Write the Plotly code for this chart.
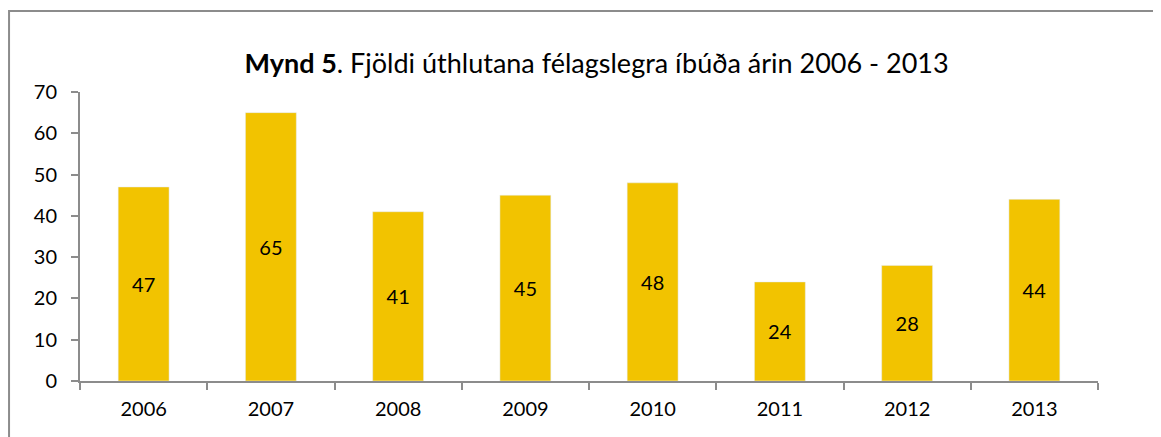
import plotly.graph_objects as go

# Gögn lesin af myndinni
AR = ["2006", "2007", "2008", "2009", "2010", "2011", "2012", "2013"]
FJOLDI = [47, 65, 41, 45, 48, 24, 28, 44]
Y_TICKS = [0, 10, 20, 30, 40, 50, 60, 70]

GULUR = "#F2C300"
GRAR = "#8C8C8C"
LETUR = "Lato, 'Open Sans', sans-serif"

fig = go.Figure(
    go.Bar(
        x=AR,
        y=FJOLDI,
        text=[str(v) for v in FJOLDI],
        textposition="inside",
        insidetextanchor="middle",
        textangle=0,
        textfont={"size": 20, "color": "black", "family": LETUR},
        marker_color=GULUR,
        width=0.4,
        hoverinfo="skip",
    )
)

# síðan hefur 8px spássíu, því er dregið frá
fig.update_layout(
    width=1161,
    height=437,
    margin={"l": 72, "r": 71, "t": 84, "b": 64},
    paper_bgcolor="white",
    plot_bgcolor="white",
    font={"family": LETUR, "size": 20, "color": "black"},
    showlegend=False,
    uniformtext={"mode": "show", "minsize": 10},
    title={
        "text": "<b>Mynd 5</b>. Fjöldi úthlutana félagslegra íbúða árin 2006 - 2013",
        "x": 0.507,
        "xanchor": "center",
        "y": 0.874,
        "yanchor": "middle",
        "font": {"size": 27, "color": "black", "family": LETUR},
    },
)

fig.update_xaxes(
    type="category",
    showline=True,
    linecolor=GRAR,
    linewidth=2,
    ticks="outside",
    tickson="boundaries",
    ticklen=7,
    tickcolor=GRAR,
    tickwidth=2,
    ticklabelstandoff=9,
    showgrid=False,
    tickfont={"size": 20},
)

fig.update_yaxes(
    range=[0, 70],
    tickvals=Y_TICKS,
    showline=True,
    linecolor=GRAR,
    linewidth=2,
    ticks="outside",
    ticklen=7,
    tickcolor=GRAR,
    tickwidth=2,
    ticklabelstandoff=10,
    showgrid=False,
    zeroline=False,
    tickfont={"size": 20},
)

# Rammi utan um myndina (vinstri brún rétt innan við jaðar myndarinnar)
fig.add_shape(
    type="rect",
    xref="paper",
    yref="paper",
    x0=-0.0697,
    x1=1.08,
    y0=-0.25,
    y1=1.280,
    line={"color": GRAR, "width": 2},
    fillcolor="rgba(0,0,0,0)",
    layer="below",
)

fig.write_html("out.html")
